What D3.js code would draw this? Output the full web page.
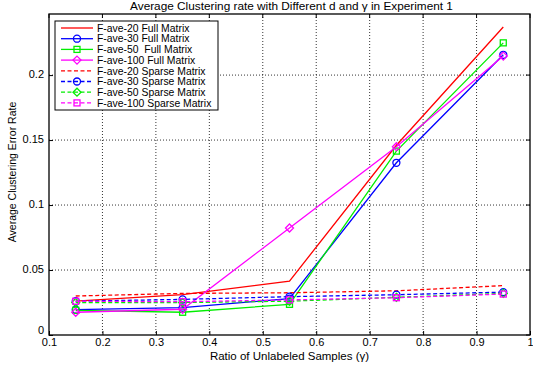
<!DOCTYPE html>
<html><head><meta charset="utf-8">
<script src="https://cdn.jsdelivr.net/npm/d3@7"></script>
<style>body{margin:0;background:#fff}svg{display:block;font-family:"Liberation Sans",Arial,sans-serif}</style>
</head><body><svg id="c" width="533" height="366"></svg>
<script>
const xValues = [0.15, 0.35, 0.55, 0.75, 0.95];
const seriesNames = ["F-ave-20 Full Matrix","F-ave-30 Full Matrix","F-ave-50  Full Matrix","F-ave-100 Full Matrix",
  "F-ave-20 Sparse Matrix","F-ave-30 Sparse Matrix","F-ave-50 Sparse Matrix","F-ave-100 Sparse Matrix"];
const full20 = [0.026, 0.031, 0.0415, 0.146, 0.237];
const full30 = [0.0195, 0.021, 0.028, 0.1325, 0.2156];
const full50 = [0.019, 0.0175, 0.0236, 0.1415, 0.2248];
const full100 = [0.0175, 0.0198, 0.0823, 0.1449, 0.2146];
const sparse20 = [0.030, 0.032, 0.0325, 0.034, 0.038];
const sparse30 = [0.026, 0.0274, 0.0295, 0.031, 0.033];
const sparse50 = [0.025, 0.025, 0.026, 0.029, 0.032];
const sparse100 = [0.026, 0.0256, 0.027, 0.0287, 0.0315];
const xTicks = [0.1,0.2,0.3,0.4,0.5,0.6,0.7,0.8,0.9,1];
const yTicks = [0,0.05,0.1,0.15,0.2];
const titleText = "Average Clustering rate with Different d and \u03b3 in Experiment 1";
const xLabel = "Ratio of Unlabeled Samples (\u03b3)";
const yLabel = "Average Clustering Error Rate";

const colors = ["#ff0000","#0000ff","#00ee00","#ff00ff","#ff0000","#0000ff","#00ee00","#ff00ff"];
const markers = ["none","circle","square","diamond","none","circle","diamond","square"];
const dashed = [false,false,false,false,true,true,true,true];
const allData = [full20,full30,full50,full100,sparse20,sparse30,sparse50,sparse100];

const L=49, R=530, T=14, B=335;
const x = d3.scaleLinear().domain([0.1,1]).range([L,R]);
const y = d3.scaleLinear().domain([0,0.247]).range([B,T]);
const svg = d3.select("#c");

// grid
const g = svg.append("g");
g.selectAll(".gx").data(xTicks.slice(1,-1)).enter().append("line")
 .attr("x1",d=>x(d)).attr("x2",d=>x(d)).attr("y1",T).attr("y2",B)
 .attr("stroke","#000").attr("stroke-width",0.8).attr("stroke-dasharray","1,2");
g.selectAll(".gy").data(yTicks.slice(1)).enter().append("line")
 .attr("y1",d=>y(d)).attr("y2",d=>y(d)).attr("x1",L).attr("x2",R)
 .attr("stroke","#000").attr("stroke-width",0.8).attr("stroke-dasharray","1,2");

// axes
const xa = svg.append("g").attr("transform",`translate(0,${B})`)
 .call(d3.axisBottom(x).tickValues(xTicks).tickFormat(d=>d3.format("")(d)).tickSizeInner(-4).tickSizeOuter(0).tickPadding(3));
const ya = svg.append("g").attr("transform",`translate(${L},0)`)
 .call(d3.axisLeft(y).tickValues(yTicks).tickFormat(d=>d3.format("")(d)).tickSizeInner(-4).tickSizeOuter(0).tickPadding(5));
[xa,ya].forEach(a=>{a.select(".domain").remove();a.selectAll("text").attr("font-size",11).attr("fill","#000").attr("font-family","Liberation Sans, Arial, sans-serif");a.selectAll("line").attr("stroke","#000");});
ya.selectAll("text").attr("dy",d=>d===0?"-0.15em":"0.25em");
// top/right ticks
svg.selectAll(".tt").data(xTicks).enter().append("line").attr("x1",d=>x(d)).attr("x2",d=>x(d)).attr("y1",T).attr("y2",T+4).attr("stroke","#000");
svg.selectAll(".tr").data(yTicks).enter().append("line").attr("y1",d=>y(d)).attr("y2",d=>y(d)).attr("x1",R).attr("x2",R-4).attr("stroke","#000");
svg.append("rect").attr("x",L).attr("y",T).attr("width",R-L).attr("height",B-T).attr("fill","none").attr("stroke","#000").attr("stroke-width",1.3);

function drawMarker(sel, type, color, cx, cy){
  if(type==="circle") sel.append("circle").attr("cx",cx).attr("cy",cy).attr("r",3.5).attr("fill","none").attr("stroke",color).attr("stroke-width",1.3);
  else if(type==="square") sel.append("rect").attr("x",cx-3).attr("y",cy-3).attr("width",6).attr("height",6).attr("fill","none").attr("stroke",color).attr("stroke-width",1.3);
  else if(type==="diamond") sel.append("path").attr("d",`M${cx},${cy-4}L${cx+4},${cy}L${cx},${cy+4}L${cx-4},${cy}Z`).attr("fill","none").attr("stroke",color).attr("stroke-width",1.3);
}

const line = d3.line().x((d,i)=>x(xValues[i])).y(d=>y(d));
const plot = svg.append("g");
allData.forEach((data,k)=>{
  plot.append("path").attr("d",line(data)).attr("fill","none").attr("stroke",colors[k]).attr("stroke-width",1.3)
   .attr("stroke-dasharray",dashed[k]?"4,2.5":null);
  data.forEach((v,i)=>drawMarker(plot,markers[k],colors[k],x(xValues[i]),y(v)));
});

// legend
const lg = svg.append("g");
const lx=55, ly=21, lw=163, lh=89, rowH=10.7;
lg.append("rect").attr("x",lx).attr("y",ly).attr("width",lw).attr("height",lh).attr("fill","#fff").attr("stroke","#000").attr("stroke-width",1);
seriesNames.forEach((name,k)=>{
  const yy = ly+7+k*rowH;
  lg.append("line").attr("x1",lx+6).attr("x2",lx+38).attr("y1",yy).attr("y2",yy).attr("stroke",colors[k]).attr("stroke-width",1.3)
    .attr("stroke-dasharray",dashed[k]?"4,2.5":null);
  drawMarker(lg,markers[k],colors[k],lx+22,yy);
  lg.append("text").attr("x",lx+42).attr("y",yy+3.7).attr("font-size",10.4).text(name).style("white-space","pre").attr("xml:space","preserve");
});

svg.append("text").attr("x",(L+R)/2+2).attr("y",10).attr("text-anchor","middle").attr("font-size",11.8).text(titleText);
svg.append("text").attr("x",(L+R)/2).attr("y",360).attr("text-anchor","middle").attr("font-size",11.5).text(xLabel);
svg.append("text").attr("transform",`translate(16,172) rotate(-90)`).attr("text-anchor","middle").attr("font-size",10.5).text(yLabel);
</script></body></html>
